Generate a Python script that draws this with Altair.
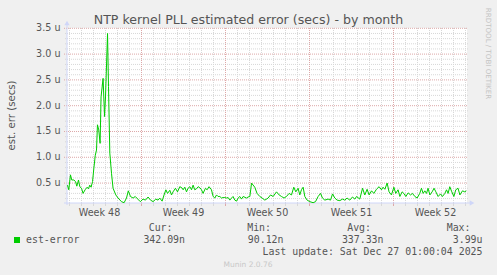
import altair as alt
import pandas as pd

# ---- data (x in days from first day line, y in microseconds)
days = [-0.17, -0.06, 0.08, 0.19, 0.36, 0.50, 0.61, 0.75, 0.86, 1.00, 1.13, 1.30, 1.47, 1.58,
        1.69, 1.80, 1.92, 2.03, 2.15, 2.25, 2.33, 2.44, 2.55, 2.63, 2.80, 2.92, 3.00, 3.17,
        3.25, 3.36, 3.50, 3.63, 3.86, 4.05, 4.33, 4.55, 4.75, 4.90, 5.08, 5.30, 5.48, 5.69,
        5.90, 6.13, 6.33, 6.55, 6.75, 6.97, 7.19, 7.38, 7.52, 7.72, 7.88, 8.03, 8.17, 8.36,
        8.50, 8.63, 8.83, 9.00, 9.19, 9.36, 9.47, 9.61, 9.75, 9.88, 10.03, 10.17, 10.30,
        10.44, 10.58, 10.72, 10.86, 11.00, 11.13, 11.33, 11.47, 11.63, 11.83, 11.97, 12.11,
        12.25, 12.38, 12.53, 12.67, 12.80, 12.94, 13.08, 13.22, 13.36, 13.50, 13.63, 13.78,
        13.92, 14.05, 14.19, 14.33, 14.47, 14.75, 14.88, 15.03, 15.17, 15.44, 15.63, 15.86,
        16.05, 16.28, 16.55, 16.75, 16.97, 17.25, 17.47, 17.67, 17.88, 18.08, 18.30, 18.50,
        18.69, 18.86, 19.05, 19.19, 19.33, 19.47, 19.61, 19.80, 20.03, 20.30, 20.50, 20.72,
        20.92, 21.08, 21.28, 21.55, 21.75, 21.92, 22.11, 22.30, 22.53, 22.75, 22.94, 23.13,
        23.36, 23.58, 23.78, 23.92, 24.19, 24.42, 24.61, 24.80, 24.97, 25.17, 25.36, 25.58,
        25.80, 26.00, 26.13, 26.28, 26.47, 26.63, 26.83, 27.03, 27.19, 27.38, 27.53, 27.72,
        27.86, 28.03, 28.22, 28.42, 28.58, 28.78, 28.97, 29.19, 29.33, 29.47, 29.61, 29.75,
        29.88, 30.03, 30.22, 30.38, 30.53, 30.72, 30.92, 31.08, 31.28, 31.42, 31.55, 31.69,
        31.86, 32.03, 32.19, 32.38, 32.53, 32.75, 32.94, 33.07]
err_u = [0.46, 0.37, 0.66, 0.56, 0.56, 0.53, 0.44, 0.56, 0.43, 0.40, 0.30, 0.37, 0.42, 0.39,
         0.46, 0.42, 0.53, 0.79, 1.04, 1.14, 1.63, 1.53, 1.27, 2.17, 2.53, 1.79, 2.17, 3.40,
         2.37, 1.08, 0.69, 0.40, 0.27, 0.21, 0.14, 0.12, 0.21, 0.35, 0.24, 0.21, 0.24, 0.19,
         0.14, 0.19, 0.17, 0.23, 0.17, 0.14, 0.19, 0.17, 0.21, 0.15, 0.27, 0.37, 0.30, 0.36,
         0.27, 0.33, 0.40, 0.33, 0.43, 0.41, 0.37, 0.42, 0.33, 0.40, 0.43, 0.37, 0.46,
         0.37, 0.39, 0.43, 0.41, 0.37, 0.30, 0.40, 0.37, 0.43, 0.37, 0.24, 0.21,
         0.27, 0.24, 0.24, 0.21, 0.22, 0.22, 0.21, 0.22, 0.17, 0.21, 0.24, 0.17,
         0.15, 0.21, 0.24, 0.19, 0.24, 0.21, 0.23, 0.24, 0.50, 0.42, 0.30, 0.24,
         0.21, 0.17, 0.21, 0.27, 0.24, 0.33, 0.27, 0.24, 0.21, 0.24, 0.30, 0.27,
         0.42, 0.33, 0.40, 0.27, 0.37, 0.42, 0.24, 0.17, 0.14, 0.12, 0.14, 0.24,
         0.30, 0.21, 0.17, 0.19, 0.17, 0.29, 0.21, 0.17, 0.16, 0.19, 0.17, 0.21,
         0.17, 0.23, 0.19, 0.24, 0.19, 0.40, 0.27, 0.38, 0.27, 0.35, 0.30, 0.38,
         0.43, 0.37, 0.42, 0.38, 0.50, 0.33, 0.27, 0.42, 0.30, 0.37, 0.24, 0.33,
         0.30, 0.24, 0.31, 0.27, 0.30, 0.24, 0.21, 0.30, 0.40, 0.30, 0.35, 0.30,
         0.40, 0.27, 0.33, 0.40, 0.33, 0.24, 0.29, 0.24, 0.30, 0.37, 0.30, 0.43,
         0.33, 0.24, 0.37, 0.40, 0.27, 0.35, 0.33, 0.35]

day_lines = [0, 1, 2, 3, 4, 5, 7, 8, 9, 10, 11, 12, 14, 15, 16, 17, 18, 19, 21, 22, 23, 24,
             25, 26, 28, 29, 30, 31, 32, 33]
week_lines = [6, 13, 20, 27]
week_label_days = [2.5, 9.5, 16.5, 23.5, 30.5]
week_labels = ["Week 48", "Week 49", "Week 50", "Week 51", "Week 52"]

y_minor = [0.2, 0.3, 0.4, 0.6, 0.7, 0.8, 0.9, 1.1, 1.2, 1.3, 1.4, 1.6, 1.7, 1.8, 1.9,
           2.1, 2.2, 2.3, 2.4, 2.6, 2.7, 2.8, 2.9, 3.1, 3.2, 3.3, 3.4]
y_major = [0.5, 1.0, 1.5, 2.0, 2.5, 3.0, 3.5]
y_labels = ["0.5 u", "1.0 u", "1.5 u", "2.0 u", "2.5 u", "3.0 u", "3.5 u"]

title_text = "NTP kernel PLL estimated error (secs) - by month"
y_title = "est. err (secs)"
series_name = "est-error"
stat_headers = ["Cur:", "Min:", "Avg:", "Max:"]
stat_values = ["342.09n", "90.12n", "337.33n", "3.99u"]
last_update = "Last update: Sat Dec 27 01:00:04 2025"
footer = "Munin 2.0.76"
watermark = "RRDTOOL / TOBI OETIKER"

# ---- layout
X0, Y0 = 67, 28
W, H = 400, 175
xs = alt.Scale(domain=[-2.5 / 12, -2.5 / 12 + W / 12], nice=False, zero=False)
ys = alt.Scale(domain=[0.114, 3.506], nice=False, zero=False)

GRID = "#D8D8D8"
MGRID = "#DDA8A8"
AXIS = "#CFD6F8"
FONT = "#555555"


def rx(a):
    return a - X0


def ry(a):
    return a - Y0


def text_layer(s, x, y, **kw):
    return alt.Chart(pd.DataFrame({"t": [s]})).mark_text(**kw).encode(
        x=alt.value(rx(x)), y=alt.value(ry(y)), text="t:N")


df_line = pd.DataFrame({"day": days, "err": err_u})
df_days = pd.DataFrame({"day": day_lines})
df_weeks = pd.DataFrame({"day": week_lines})
df_ymin = pd.DataFrame({"v": y_minor})
df_ymaj = pd.DataFrame({"v": y_major, "lab": y_labels})
df_wl = pd.DataFrame({"day": week_label_days, "lab": week_labels})

vgrid_minor = alt.Chart(df_days).mark_rule(color=GRID, strokeDash=[1, 1], strokeWidth=1).encode(
    x=alt.X("day:Q", scale=xs, axis=None))
vgrid_major = alt.Chart(df_weeks).mark_rule(color=MGRID, strokeDash=[1, 1], strokeWidth=1).encode(
    x=alt.X("day:Q", scale=xs, axis=None))
hgrid_minor = alt.Chart(df_ymin).mark_rule(color=GRID, strokeDash=[1, 1], strokeWidth=1).encode(
    y=alt.Y("v:Q", scale=ys, axis=None), x=alt.value(-2), x2=alt.value(W + 1))
hgrid_major = alt.Chart(df_ymaj).mark_rule(color=MGRID, strokeDash=[1, 1], strokeWidth=1).encode(
    y=alt.Y("v:Q", scale=ys, axis=None), x=alt.value(-3), x2=alt.value(W + 1))

xtick_minor = alt.Chart(df_days).mark_rule(color=GRID, strokeWidth=1).encode(
    x=alt.X("day:Q", scale=xs, axis=None), y=alt.value(H), y2=alt.value(H + 3))
xtick_major = alt.Chart(df_weeks).mark_rule(color=MGRID, strokeWidth=1).encode(
    x=alt.X("day:Q", scale=xs, axis=None), y=alt.value(H), y2=alt.value(H + 3))

yaxis_line = alt.Chart(pd.DataFrame({"a": [0]})).mark_rule(color=AXIS, strokeWidth=1).encode(
    x=alt.value(0), y=alt.value(-4), y2=alt.value(H + 2))
xaxis_line = alt.Chart(pd.DataFrame({"a": [0]})).mark_rule(color=AXIS, strokeWidth=1).encode(
    y=alt.value(H), x=alt.value(-3), x2=alt.value(W + 4))
arrow_up = alt.Chart(pd.DataFrame({"a": [0]})).mark_point(
    shape="triangle-up", filled=True, color=AXIS, opacity=1, size=28).encode(
    x=alt.value(0), y=alt.value(-5))
arrow_right = alt.Chart(pd.DataFrame({"a": [0]})).mark_point(
    shape="triangle-right", filled=True, color=AXIS, opacity=1, size=28).encode(
    x=alt.value(W + 5), y=alt.value(H))

line = alt.Chart(df_line).mark_line(color="#00CC00", strokeWidth=1).encode(
    x=alt.X("day:Q", scale=xs, axis=None),
    y=alt.Y("err:Q", scale=ys, axis=None))

ylabels = alt.Chart(df_ymaj).mark_text(
    align="right", baseline="middle", font="DejaVu Sans", fontSize=9.6, color=FONT).encode(
    y=alt.Y("v:Q", scale=ys, axis=None), x=alt.value(rx(60.5)), text="lab:N")
xlabels = alt.Chart(df_wl).mark_text(
    align="center", baseline="alphabetic", font="DejaVu Sans", fontSize=9.6, color=FONT).encode(
    x=alt.X("day:Q", scale=xs, axis=None), y=alt.value(ry(216)), text="lab:N")

layers = [vgrid_minor, hgrid_minor, vgrid_major, hgrid_major, xtick_minor, xtick_major,
          yaxis_line, xaxis_line, arrow_up, arrow_right, line, ylabels, xlabels]

layers.append(text_layer(title_text, 248.5, 23.5, align="center", baseline="alphabetic",
                         font="DejaVu Sans", fontSize=12.6, color=FONT))
layers.append(text_layer(y_title, 11.5, 115.5, align="center", baseline="middle", angle=270,
                         font="DejaVu Sans", fontSize=10.2, color=FONT))
layers.append(text_layer(watermark, 487.7, 53.5, align="center", baseline="middle", angle=90,
                         font="DejaVu Sans", fontSize=7.1, color="#C4C4C4"))

# legend
layers.append(alt.Chart(pd.DataFrame({"a": [0]})).mark_rect(color="#00CC00").encode(
    x=alt.value(rx(14)), x2=alt.value(rx(20)), y=alt.value(ry(237)), y2=alt.value(ry(243))))
layers.append(text_layer(series_name, 26, 243, align="left", baseline="alphabetic",
                         font="DejaVu Sans Mono", fontSize=9.9, color=FONT))
header_right = [172.5, 271, 371, 470.5]
value_right = [185, 283.5, 383.5, 482.5]
for h, v, hx, vx in zip(stat_headers, stat_values, header_right, value_right):
    layers.append(text_layer(h, hx, 230.5, align="right", baseline="alphabetic",
                             font="DejaVu Sans Mono", fontSize=9.9, color=FONT))
    layers.append(text_layer(v, vx, 243, align="right", baseline="alphabetic",
                             font="DejaVu Sans Mono", fontSize=9.9, color=FONT))
layers.append(text_layer(last_update, 482.5, 255, align="right", baseline="alphabetic",
                         font="DejaVu Sans Mono", fontSize=9.9, color=FONT))
layers.append(text_layer(footer, 248, 267, align="center", baseline="alphabetic",
                         font="DejaVu Sans", fontSize=7.5, color="#C8C8C8"))

chart = alt.layer(*layers).properties(
    width=W, height=H,
    autosize=alt.AutoSizeParams(type="none"),
    padding={"left": X0, "top": Y0, "right": 497 - X0 - W, "bottom": 275 - Y0 - H},
    background="#F0F0F0",
).configure_view(stroke=None, fill="white")

chart.save("out.html", embed_options={"renderer": "svg", "actions": False})
